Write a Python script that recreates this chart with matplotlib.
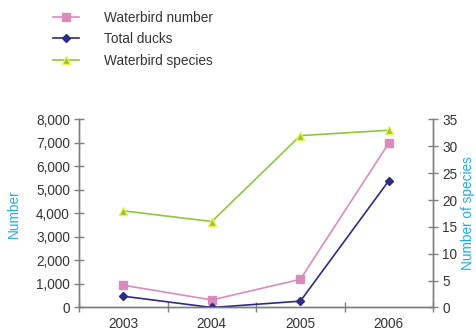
import matplotlib
matplotlib.use("Agg")
import matplotlib.pyplot as plt
from matplotlib.lines import Line2D
from matplotlib.ticker import FuncFormatter

plt.rcParams['font.family'] = ['Liberation Sans', 'DejaVu Sans']

years = ["2003", "2004", "2005", "2006"]
waterbird_number = [950, 320, 1200, 7000]
total_ducks = [480, 0, 270, 5400]
waterbird_species = [18, 16, 32, 33]

pink = "#d98bbf"
navy = "#2f2a85"
green = "#8dc63f"
yellow = "#f2ee4a"
cyan = "#1aaee8"
grey = "#7f7f7f"
text_col = "#333333"
fs = 9.8

fig = plt.figure(figsize=(4.76, 3.31), dpi=100)
ax = fig.add_axes([0.166, 0.071, 0.744, 0.568])
ax2 = ax.twinx()

x = list(range(len(years)))
ax.plot(x, waterbird_number, color=pink, lw=1.2, marker="s", ms=5.5,
        mfc=pink, mec=pink, zorder=3)
ax.plot(x, total_ducks, color=navy, lw=1.2, marker="D", ms=4.2,
        mfc=navy, mec=navy, zorder=3)
ax2.plot(x, waterbird_species, color=green, lw=1.2, marker="^", ms=6,
         mfc=green, mec=yellow, mew=1.0, zorder=3)

ax.set_xlim(-0.5, len(years) - 0.5)
ax.set_ylim(0, 8000)
ax2.set_ylim(0, 35)
ax.set_yticks(range(0, 8001, 1000))
ax2.set_yticks(range(0, 36, 5))
ax.yaxis.set_major_formatter(FuncFormatter(lambda v, p: f"{int(v):,}"))

ax.set_xticks([i + 0.5 for i in range(-1, len(years))])
ax.set_xticklabels([])
ax.set_xticks(x, minor=True)
ax.set_xticklabels(years, minor=True)
ax.tick_params(axis="x", which="minor", length=0, pad=7, labelsize=fs,
               labelcolor=text_col)
ax.tick_params(axis="x", which="major", direction="inout", length=7,
               color=grey, width=1)

ax.tick_params(axis="y", direction="inout", length=7, color=grey, width=1,
               labelsize=fs, labelcolor=text_col, pad=3)
ax2.tick_params(axis="y", direction="inout", length=7, color=grey, width=1,
                labelsize=fs, labelcolor=text_col, pad=3)

for a in (ax, ax2):
    a.spines["top"].set_visible(False)
    for s in ("left", "right", "bottom"):
        a.spines[s].set_color(grey)
        a.spines[s].set_linewidth(1)

ax.set_ylabel("Number", color=cyan, fontsize=fs)
ax.yaxis.set_label_coords(-0.164, 0.5)
ax2.set_ylabel("Number of species", color=cyan, fontsize=fs)
ax2.yaxis.set_label_coords(1.08, 0.5)

handles = [
    Line2D([], [], color=pink, lw=1.2, marker="s", ms=5.5, mfc=pink, mec=pink),
    Line2D([], [], color=navy, lw=1.2, marker="D", ms=4.2, mfc=navy, mec=navy),
    Line2D([], [], color=green, lw=1.2, marker="^", ms=6, mfc=green,
           mec=yellow, mew=1.0),
]
labels = ["Waterbird number", "Total ducks", "Waterbird species"]
fig.legend(handles, labels, loc="upper left", bbox_to_anchor=(0.085, 1.005),
           frameon=False, fontsize=fs, handlelength=1.95, handletextpad=1.85,
           labelspacing=0.55, labelcolor=text_col)

fig.savefig("out.png", dpi=100)
